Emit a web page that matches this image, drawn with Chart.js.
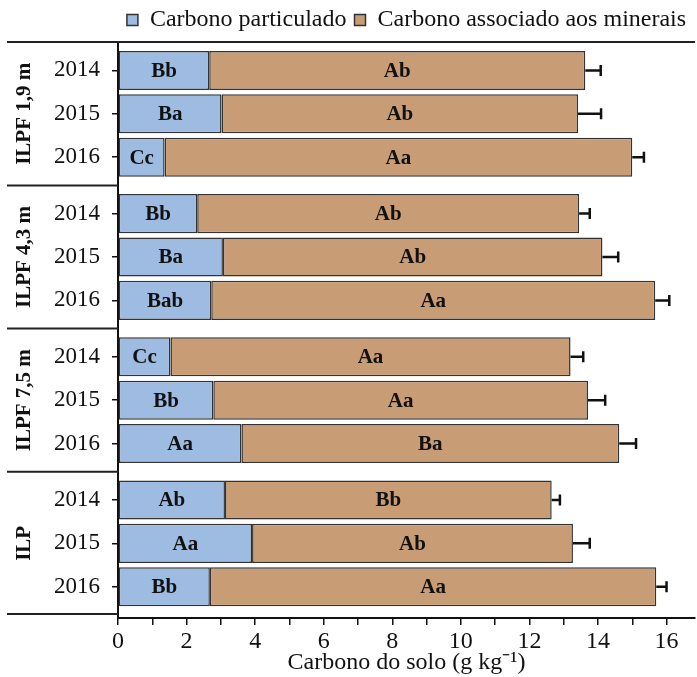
<!DOCTYPE html>
<html>
<head>
<meta charset="utf-8">
<script src="https://cdn.jsdelivr.net/npm/chart.js@4.4.1/dist/chart.umd.min.js"></script>
<style>
    html, body { margin: 0; padding: 0; background: #fff; }
</style>
</head>
<body>
<canvas id="carbonochart" width="697" height="677"></canvas>
<script>
"use strict";

/* dados */
var anos = ['2014', '2015', '2016'];
var sistemas = ['ILPF 1,9 m', 'ILPF 4,3 m', 'ILPF 7,5 m', 'ILP'];
var particulado = [2.66, 3.02, 1.36, 2.31, 3.06, 2.72, 1.53, 2.78, 3.60, 3.12, 3.91, 2.68];
var minerais = [10.97, 10.40, 13.64, 11.14, 11.07, 12.95, 11.67, 10.93, 11.02, 9.53, 9.36, 13.02];
var erro = [0.45, 0.67, 0.34, 0.31, 0.46, 0.41, 0.37, 0.50, 0.49, 0.24, 0.49, 0.30];
var letrasPart = ['Bb', 'Ba', 'Cc', 'Bb', 'Ba', 'Bab', 'Cc', 'Bb', 'Aa', 'Ab', 'Aa', 'Bb'];
var letrasMin = ['Ab', 'Ab', 'Aa', 'Ab', 'Ab', 'Aa', 'Aa', 'Aa', 'Ba', 'Bb', 'Ab', 'Aa'];
var xTickLabels = [0, 2, 4, 6, 8, 10, 12, 14, 16];

var serif = '"Liberation Serif", "Times New Roman", serif';
var passoGrupo = 3.3;

/* posicao de cada barra no eixo y (anos dentro do sistema) */
var posicoes = [];
sistemas.forEach(function (s, g) {
    anos.forEach(function (a, i) {
        posicoes.push(g * passoGrupo + i);
    });
});

/* legenda com altura fixa */
var legendHeight = {
    id: 'legendHeight',
    beforeInit: function (chart) {
        var fit = chart.legend.fit;
        chart.legend.fit = function () {
            fit.call(this);
            this.height = 42;
        };
    }
};

/* barras de erro e letras dentro das barras */
var barText = {
    id: 'barText',
    afterDatasetsDraw: function (chart) {
        var ctx = chart.ctx;
        var xScale = chart.scales.x;
        ctx.save();
        ctx.strokeStyle = '#111';
        ctx.lineWidth = 2.5;
        chart.getDatasetMeta(1).data.forEach(function (bar, j) {
            var xEnd = xScale.getPixelForValue(particulado[j] + minerais[j] + erro[j]);
            ctx.beginPath();
            ctx.moveTo(bar.x, bar.y);
            ctx.lineTo(xEnd, bar.y);
            ctx.moveTo(xEnd, bar.y - 5.5);
            ctx.lineTo(xEnd, bar.y + 5.5);
            ctx.stroke();
        });
        ctx.font = 'bold 21px ' + serif;
        ctx.fillStyle = '#111';
        ctx.textAlign = 'center';
        ctx.textBaseline = 'middle';
        [letrasPart, letrasMin].forEach(function (letras, d) {
            chart.getDatasetMeta(d).data.forEach(function (bar, j) {
                ctx.fillText(letras[j], (bar.x + bar.base) / 2, bar.y + 1);
            });
        });
        ctx.restore();
    }
};

/* nomes dos sistemas e linhas de separacao a esquerda */
var grupos = {
    id: 'grupos',
    afterDraw: function (chart) {
        var ctx = chart.ctx;
        var area = chart.chartArea;
        var yScale = chart.scales.y;
        ctx.save();
        ctx.strokeStyle = '#222';
        ctx.lineWidth = 2;
        ctx.beginPath();
        ctx.moveTo(7, area.top);
        ctx.lineTo(area.right, area.top);
        for (var g = 0; g < sistemas.length - 1; g++) {
            var y = yScale.getPixelForValue(g * passoGrupo + 2.65);
            ctx.moveTo(7, y);
            ctx.lineTo(area.left, y);
        }
        ctx.moveTo(7, area.bottom - 4);
        ctx.lineTo(area.left, area.bottom - 4);
        ctx.stroke();

        ctx.font = 'bold 21px ' + serif;
        ctx.fillStyle = '#111';
        ctx.textAlign = 'center';
        ctx.textBaseline = 'middle';
        sistemas.forEach(function (s, g) {
            var cy = yScale.getPixelForValue(g * passoGrupo + 1);
            ctx.save();
            ctx.translate(25, cy);
            ctx.rotate(-Math.PI / 2);
            ctx.fillText(s, 0, 0);
            ctx.restore();
        });
        ctx.restore();
    }
};

var ctxCarbono = document.getElementById('carbonochart').getContext('2d');

var carbonoConfig = {
    type: 'bar',
    data: {
        datasets: [{
            label: 'Carbono particulado',
            data: particulado.map(function (v, j) { return { x: v, y: posicoes[j] }; }),
            backgroundColor: '#9ebbe1',
            borderColor: '#333',
            borderWidth: 1.5,
            borderSkipped: false,
            barPercentage: 0.9,
            categoryPercentage: 1
        },
        {
            label: 'Carbono associado aos minerais',
            data: minerais.map(function (v, j) { return { x: v, y: posicoes[j] }; }),
            backgroundColor: '#c89c74',
            borderColor: '#333',
            borderWidth: 1.5,
            borderSkipped: false,
            barPercentage: 0.9,
            categoryPercentage: 1
        }]
    },
    options: {
        indexAxis: 'y',
        responsive: false,
        animation: false,
        layout: {
            padding: { left: 0, right: 2, top: 0, bottom: 0 }
        },
        plugins: {
            legend: {
                position: 'top',
                fullSize: false,
                labels: {
                    font: { family: serif, size: 24 },
                    color: '#111',
                    boxWidth: 11,
                    boxHeight: 11,
                    padding: 8
                }
            },
            tooltip: { enabled: false }
        },
        scales: {
            x: {
                type: 'linear',
                stacked: true,
                min: 0,
                max: 16.83,
                afterFit: function (scale) { scale.height = 59; },
                afterBuildTicks: function (scale) {
                    var ticks = [];
                    for (var v = 0; v <= xTickLabels[xTickLabels.length - 1]; v++) {
                        ticks.push({ value: v });
                    }
                    scale.ticks = ticks;
                },
                ticks: {
                    autoSkip: false,
                    maxRotation: 0,
                    padding: 2,
                    color: '#111',
                    font: { family: serif, size: 24 },
                    callback: function (v) {
                        return xTickLabels.indexOf(v) >= 0 ? String(v) : '';
                    }
                },
                grid: {
                    drawOnChartArea: false,
                    tickLength: 7,
                    color: '#111',
                    lineWidth: 1.5
                },
                border: { color: '#111', width: 2 },
                title: {
                    display: true,
                    text: 'Carbono do solo (g kg\u207B\u00B9)',
                    color: '#111',
                    font: { family: serif, size: 24 },
                    padding: 0
                }
            },
            y: {
                type: 'linear',
                stacked: true,
                reverse: true,
                offset: false,
                min: -0.655,
                max: 12.62,
                afterFit: function (scale) { scale.width = 118; },
                afterBuildTicks: function (scale) {
                    scale.ticks = posicoes.map(function (p) { return { value: p }; });
                },
                ticks: {
                    autoSkip: false,
                    padding: 12,
                    color: '#111',
                    font: { family: serif, size: 23 },
                    callback: function (v, index) {
                        return anos[index % anos.length];
                    }
                },
                grid: {
                    offset: false,
                    drawOnChartArea: false,
                    tickLength: 6,
                    color: '#111',
                    lineWidth: 1.5
                },
                border: { color: '#111', width: 2 }
            }
        }
    },
    plugins: [legendHeight, barText, grupos]
};

var carbonoChart = new Chart(ctxCarbono, carbonoConfig);
</script>
</body>
</html>
